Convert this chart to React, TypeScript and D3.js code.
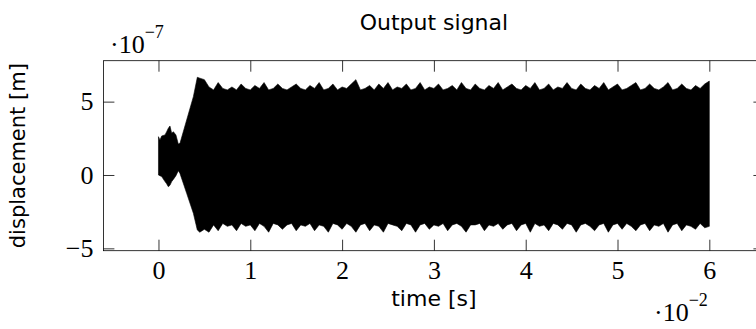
import * as d3 from 'd3'
import { useRef, useEffect } from 'react'

// transient part at the start (time in 1e-2 s, displacement in 1e-7 m)
const rampTime = [0, 0.016, 0.035, 0.071, 0.089, 0.107, 0.125, 0.144, 0.162, 0.19, 0.216, 0.234, 0.307, 0.38, 0.423]
const rampTop = [2.61, 2.39, 2.66, 2.73, 2.95, 3.18, 3.34, 2.84, 2.95, 2.73, 2.11, 2.16, 3.75, 5.34, 6.66]
const rampBottom = [0, -0.05, -0.11, -0.45, -0.6, -0.8, -0.7, -0.45, -0.3, -0.05, 0.29, 0.11, -1.25, -2.61, -3.75]

// steady oscillation envelope
const steadyTime = [
  0.45, 0.5, 0.55, 0.6, 0.65, 0.7, 0.75, 0.8, 0.85, 0.9,
  0.95, 1.0, 1.05, 1.1, 1.15, 1.2, 1.25, 1.3, 1.35, 1.4,
  1.45, 1.5, 1.55, 1.6, 1.65, 1.7, 1.75, 1.8, 1.85, 1.9,
  1.95, 2.0, 2.05, 2.1, 2.15, 2.2, 2.25, 2.3, 2.35, 2.4,
  2.45, 2.5, 2.55, 2.6, 2.65, 2.7, 2.75, 2.8, 2.85, 2.9,
  2.95, 3.0, 3.05, 3.1, 3.15, 3.2, 3.25, 3.3, 3.35, 3.4,
  3.45, 3.5, 3.55, 3.6, 3.65, 3.7, 3.75, 3.8, 3.85, 3.9,
  3.95, 4.0, 4.05, 4.1, 4.15, 4.2, 4.25, 4.3, 4.35, 4.4,
  4.45, 4.5, 4.55, 4.6, 4.65, 4.7, 4.75, 4.8, 4.85, 4.9,
  4.95, 5.0, 5.05, 5.1, 5.15, 5.2, 5.25, 5.3, 5.35, 5.4,
  5.45, 5.5, 5.55, 5.6, 5.65, 5.7, 5.75, 5.8, 5.85, 5.9,
  5.95, 6.0,
]
const steadyTop = [
  6.6, 6.5, 6.0, 5.8, 6.3, 5.9, 5.8, 6.0, 5.8, 6.2,
  5.9, 5.8, 6.1, 5.9, 6.3, 5.8, 5.9, 6.2, 5.9, 5.8,
  6.0, 6.2, 5.9, 5.8, 6.1, 5.9, 6.3, 5.8, 5.9, 6.2,
  5.8, 6.0, 5.9, 6.2, 6.5, 5.8, 5.9, 6.1, 5.8, 6.2,
  5.9, 6.3, 5.8, 6.0, 5.9, 6.2, 5.8, 5.9, 6.3, 5.8,
  6.0, 5.9, 6.2, 5.8, 5.9, 6.1, 5.8, 6.3, 5.9, 5.8,
  6.2, 5.9, 5.8, 6.1, 5.9, 6.3, 5.8, 6.0, 6.2, 5.9,
  5.8, 6.1, 5.9, 6.3, 5.8, 5.9, 6.2, 5.8, 6.0, 5.9,
  6.3, 5.9, 5.8, 6.2, 5.9, 5.8, 6.1, 5.9, 6.3, 5.8,
  6.0, 6.2, 5.8, 5.9, 6.1, 6.3, 5.8, 5.9, 6.2, 5.9,
  5.8, 6.0, 6.3, 5.8, 5.9, 6.2, 5.9, 5.8, 6.1, 5.9,
  6.2, 6.4,
]
const steadyBottom = [
  -3.9, -3.7, -3.9, -3.4, -3.8, -3.3, -3.5, -3.4, -3.8, -3.3,
  -3.5, -3.4, -3.8, -3.3, -3.5, -3.9, -3.3, -3.4, -3.7, -3.4,
  -3.3, -3.8, -3.4, -3.5, -3.3, -3.8, -3.4, -3.5, -3.9, -3.3,
  -3.4, -3.7, -3.3, -3.5, -3.9, -3.4, -3.3, -3.8, -3.4, -3.5,
  -3.9, -3.3, -3.4, -3.5, -3.8, -3.3, -3.4, -3.9, -3.4, -3.3,
  -3.7, -3.4, -3.5, -3.3, -3.8, -3.4, -3.3, -3.5, -3.9, -3.4,
  -3.4, -3.3, -3.8, -3.4, -3.5, -3.3, -3.7, -3.4, -3.3, -3.8,
  -3.4, -3.3, -3.9, -3.3, -3.5, -3.4, -3.8, -3.3, -3.4, -3.7,
  -3.3, -3.4, -3.9, -3.4, -3.3, -3.5, -3.8, -3.4, -3.3, -3.9,
  -3.4, -3.3, -3.7, -3.3, -3.5, -3.8, -3.4, -3.3, -3.8, -3.4,
  -3.5, -3.3, -3.9, -3.4, -3.3, -3.8, -3.4, -3.5, -3.7, -3.3,
  -3.6, -3.5,
]

const xTicks = [0, 1, 2, 3, 4, 5, 6]
const yTicks = [-5, 0, 5]

const App = () => {
  const svgRef = useRef(null)

  const width = 756
  const height = 329
  const left = 103.4
  const right = 764.4
  const top = 60.7
  const bottom = 250.7
  const tickLen = 11

  useEffect(() => {
    const svg = d3.select(svgRef.current)
    svg.selectAll('*').remove() // clear

    const x = d3.scaleLinear().domain([-0.6, 6.6]).range([left, right])
    const y = d3.scaleLinear().domain([-5.16, 7.79]).range([bottom, top])

    const serif = "'Liberation Serif', 'Times New Roman', serif"
    const sans = "'DejaVu Sans', 'Noto Sans', sans-serif"

    // signal envelope
    const data = rampTime
      .map((t, i) => ({ t, hi: rampTop[i], lo: rampBottom[i] }))
      .concat(steadyTime.map((t, i) => ({ t, hi: steadyTop[i], lo: steadyBottom[i] })))

    const area = d3
      .area()
      .x(d => x(d.t))
      .y0(d => y(d.lo))
      .y1(d => y(d.hi))

    svg
      .append('path')
      .datum(data)
      .attr('d', area)
      .attr('fill', '#000')
      .attr('stroke', '#000')
      .attr('stroke-width', 0.6)

    // axes, ticks pointing inward
    const styleAxis = g => {
      g.select('.domain').remove()
      g.selectAll('line').attr('stroke', '#000').attr('stroke-width', 0.8)
      g.selectAll('text')
        .attr('fill', '#000')
        .style('font-family', serif)
        .style('font-size', '26px')
    }

    svg
      .append('g')
      .attr('transform', `translate(0, ${bottom})`)
      .call(d3.axisBottom(x).tickValues(xTicks).tickSizeInner(-tickLen).tickSizeOuter(0).tickPadding(9.5))
      .call(styleAxis)

    svg
      .append('g')
      .attr('transform', `translate(0, ${top})`)
      .call(d3.axisTop(x).tickValues(xTicks).tickSizeInner(-tickLen).tickSizeOuter(0).tickFormat(() => ''))
      .call(styleAxis)

    svg
      .append('g')
      .attr('transform', `translate(${left}, 0)`)
      .call(d3.axisLeft(y).tickValues(yTicks).tickSizeInner(-tickLen).tickSizeOuter(0).tickPadding(10))
      .call(styleAxis)

    svg
      .append('g')
      .attr('transform', `translate(${right}, 0)`)
      .call(d3.axisRight(y).tickValues(yTicks).tickSizeInner(-tickLen).tickSizeOuter(0).tickFormat(() => ''))
      .call(styleAxis)

    // frame
    svg
      .append('rect')
      .attr('x', left)
      .attr('y', top)
      .attr('width', right - left)
      .attr('height', bottom - top)
      .attr('fill', 'none')
      .attr('stroke', '#000')
      .attr('stroke-width', 0.8)

    const cx = (left + right) / 2

    // title
    svg
      .append('text')
      .attr('x', cx)
      .attr('y', 30)
      .attr('text-anchor', 'middle')
      .style('font-family', sans)
      .style('font-size', '22px')
      .text('Output signal')

    // x label
    svg
      .append('text')
      .attr('x', cx)
      .attr('y', 306)
      .attr('text-anchor', 'middle')
      .style('font-family', sans)
      .style('font-size', '22px')
      .text('time [s]')

    // y label
    svg
      .append('text')
      .attr('transform', `translate(25, ${(top + bottom) / 2}) rotate(-90)`)
      .attr('text-anchor', 'middle')
      .style('font-family', sans)
      .style('font-size', '21px')
      .text('displacement [m]')

    // scale factors
    const yScaleNote = svg.append('text').attr('x', 110).attr('y', 53.3).style('font-family', serif).style('font-size', '26px')
    yScaleNote.append('tspan').text('·10')
    yScaleNote.append('tspan').attr('dy', -15).style('font-size', '18px').text('−7')

    const xScaleNote = svg.append('text').attr('x', 654).attr('y', 321).style('font-family', serif).style('font-size', '26px')
    xScaleNote.append('tspan').text('·10')
    xScaleNote.append('tspan').attr('dy', -15).style('font-size', '18px').text('−2')
  }, [])

  return (
    <svg
      ref={svgRef}
      width={width}
      height={height}
      style={{ position: 'absolute', left: 0, top: 0, background: '#fff' }}
    ></svg>
  )
}

export default App
